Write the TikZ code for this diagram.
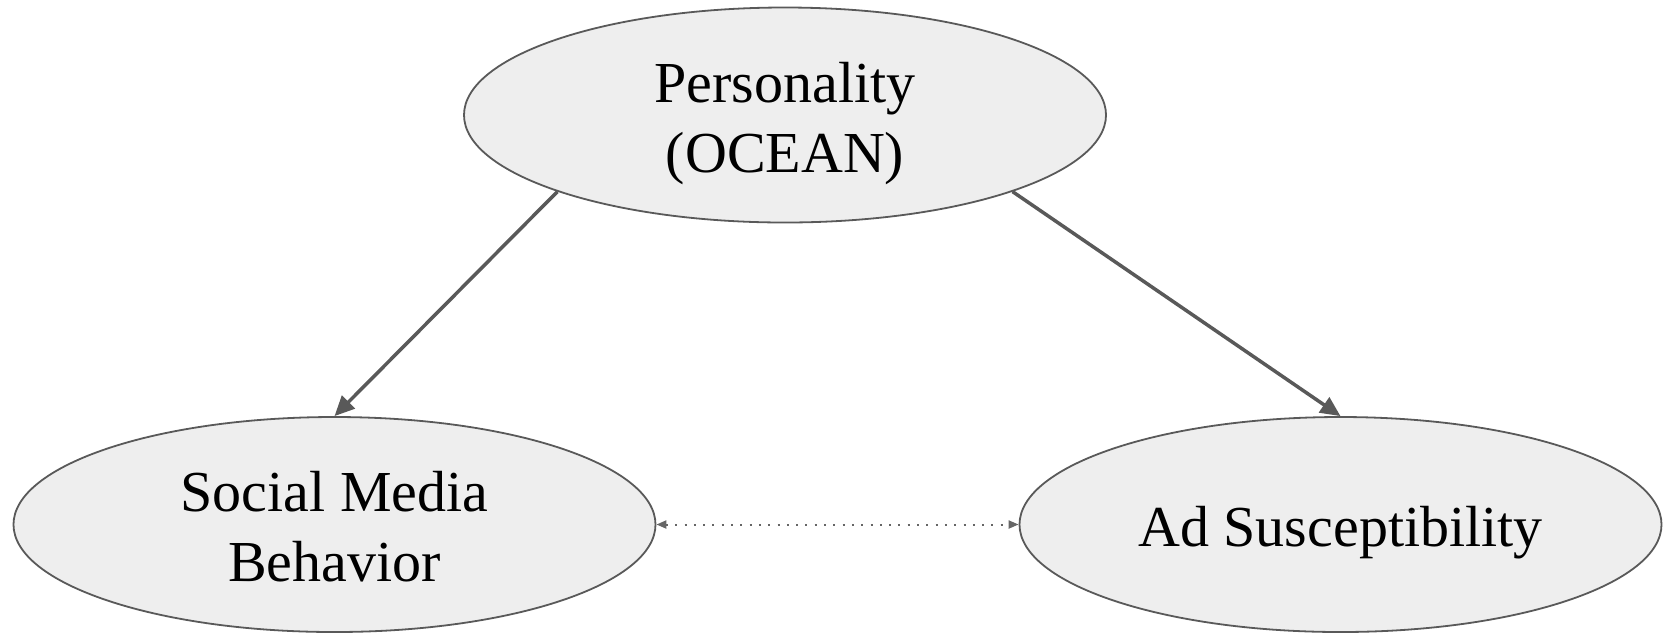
\documentclass[tikz,border=0pt]{standalone}
\usepackage{fontspec}
\setmainfont{Liberation Serif}
\usetikzlibrary{shapes.geometric,arrows.meta}
\definecolor{edgegray}{HTML}{595959}
\definecolor{fillgray}{HTML}{EEEEEE}
\definecolor{dotgray}{HTML}{666666}
\tikzset{
  oval/.style={ellipse, draw=edgegray, fill=fillgray, line width=0.9pt, inner sep=0pt,
    minimum width=321pt, minimum height=107.5pt, align=center,
    text height=21.5pt, text depth=0pt,
    font=\fontsize{29}{35}\selectfont},
  twoline/.style={text height=57pt, text depth=0pt},
  mainarrow/.style={draw=edgegray, line width=1.75pt, -{Triangle[length=10pt,width=9pt]}},
  dotarrow/.style={draw=dotgray, line width=1pt, dash pattern=on 1pt off 3.65pt,
    {Triangle[length=5pt,width=4pt]}-{Triangle[length=5pt,width=4pt]}}
}
\begin{document}
\begin{tikzpicture}[x=0.5pt,y=-0.5pt]
\useasboundingbox (0,0) rectangle (1668,634);
\node[oval,twoline] (top) at (785,115) {Personality\\(OCEAN)};
\node[oval,twoline] (left) at (334.5,524.5) {Social Media\\Behavior};
\node[oval] (right) at (1340.5,524.5) {Ad Susceptibility};
\draw[mainarrow] (top.south west) -- (left.north);
\draw[mainarrow] (top.south east) -- (right.north);
\draw[dotarrow] (left.east) -- (right.west);
\end{tikzpicture}
\end{document}
